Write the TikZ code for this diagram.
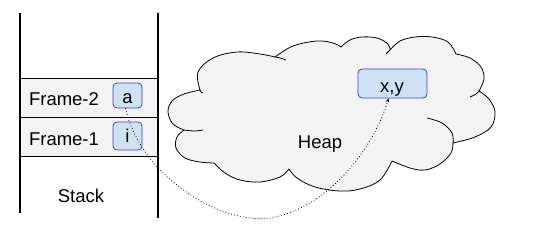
\documentclass[tikz,border=0pt]{standalone}
\usepackage{fontspec}
\setmainfont{Liberation Sans}
\usetikzlibrary{arrows.meta}
\definecolor{rowgray}{HTML}{F3F3F3}
\definecolor{boxfill}{HTML}{CFE2F3}
\definecolor{boxline}{HTML}{3C3CD6}
\begin{document}
\begin{tikzpicture}[x=1pt,y=-1pt,
  lbl/.style={font=\fontsize{18.5}{20}\selectfont, inner sep=0pt, anchor=base},
  varbox/.style={draw=boxline, fill=boxfill, rounded corners=4pt, line width=0.8pt, inner sep=0pt},
  stackline/.style={line width=1.4pt, black},
  row/.style={fill=rowgray, draw=black, line width=0.8pt},
  cloudline/.style={draw=black, line width=0.8pt, line join=round},
  lobe/.style={smooth, tension=0.6},
  ptr/.style={line width=0.8pt, dash pattern=on 0.8pt off 2.2pt, -{Stealth[length=4pt,width=3.5pt]}}
]
\useasboundingbox (0,0) rectangle (537,230);
% stack rows
\path[row] (20,78) rectangle (158,117);
\path[row] (20,117) rectangle (158,156);
% stack walls
\draw[stackline] (20,13) -- (20,213);
\draw[stackline] (158,13) -- (158,218);
% labels
\node[lbl] (f2) at (64,105) {Frame-2};
\node[lbl] (f1) at (64,145) {Frame-1};
\node[lbl] (stack) at (81,202) {Stack};
% variable boxes
\node[varbox, minimum width=29pt, minimum height=25pt] (a) at (127.5,95.5) {};
\node[lbl] at (127.5,103) {a};
\node[varbox, minimum width=29pt, minimum height=28pt] (i) at (127.5,136) {};
\node[lbl] at (127.5,142) {i};
% heap cloud
\path[cloudline, fill=rowgray]
  plot[lobe] coordinates {(200,90) (198,72) (213,58) (237,52) (260,54) (275,57)}
  -- plot[lobe] coordinates {(275,57) (293,46) (317,41) (333,43) (341,47)}
  -- plot[lobe] coordinates {(341,47) (350,40) (362,37) (377,38) (388,44) (390,50)}
  -- plot[lobe] coordinates {(390,50) (400,41) (415,37) (432,37) (448,42) (456,54)}
  -- plot[lobe] coordinates {(456,54) (470,58) (481,67) (484,79) (479,91)}
  -- plot[lobe] coordinates {(479,91) (489,99) (495,112) (491,127) (475,137) (453,143)}
  -- plot[lobe] coordinates {(453,143) (451,153) (440,164) (425,170) (410,168) (392,161)}
  -- plot[lobe] coordinates {(392,161) (380,180) (360,189) (340,191) (315,187) (297,178) (289,169)}
  -- plot[lobe] coordinates {(289,169) (280,177) (260,182) (240,180) (225,173) (214,163)}
  -- plot[lobe] coordinates {(214,163) (200,162) (185,158) (176,148) (177,137) (184,130)}
  -- plot[lobe] coordinates {(184,130) (173,124) (168,112) (172,101) (184,94) (200,90)}
  -- cycle;
% inner strokes of the cloud
\draw[cloudline] plot[lobe] coordinates {(275,57) (280,58) (286,60)};
\draw[cloudline] plot[lobe] coordinates {(184,130) (194,131) (203,130)};
\draw[cloudline] plot[lobe] coordinates {(453,143) (452,133) (442,123) (427,118)};
\draw[cloudline] plot[lobe] coordinates {(479,91) (476,94) (470,97)};
\draw[cloudline] plot[lobe] coordinates {(390,50) (388,52) (386,54)};
\draw[cloudline] plot[lobe] coordinates {(200,90) (201,92) (203,93)};
\node[lbl] (heaplbl) at (320,148) {Heap};
\node[varbox, minimum width=69pt, minimum height=29pt] (xy) at (392.5,83.5) {};
\node[lbl] at (392,92) {x,y};
% pointer
\draw[ptr] ([xshift=-2pt]a.south) .. controls (140,175) and (220,225) .. (270,218)
  .. controls (330,208) and (375,145) .. ([xshift=-4pt]xy.south);
\end{tikzpicture}
\end{document}
